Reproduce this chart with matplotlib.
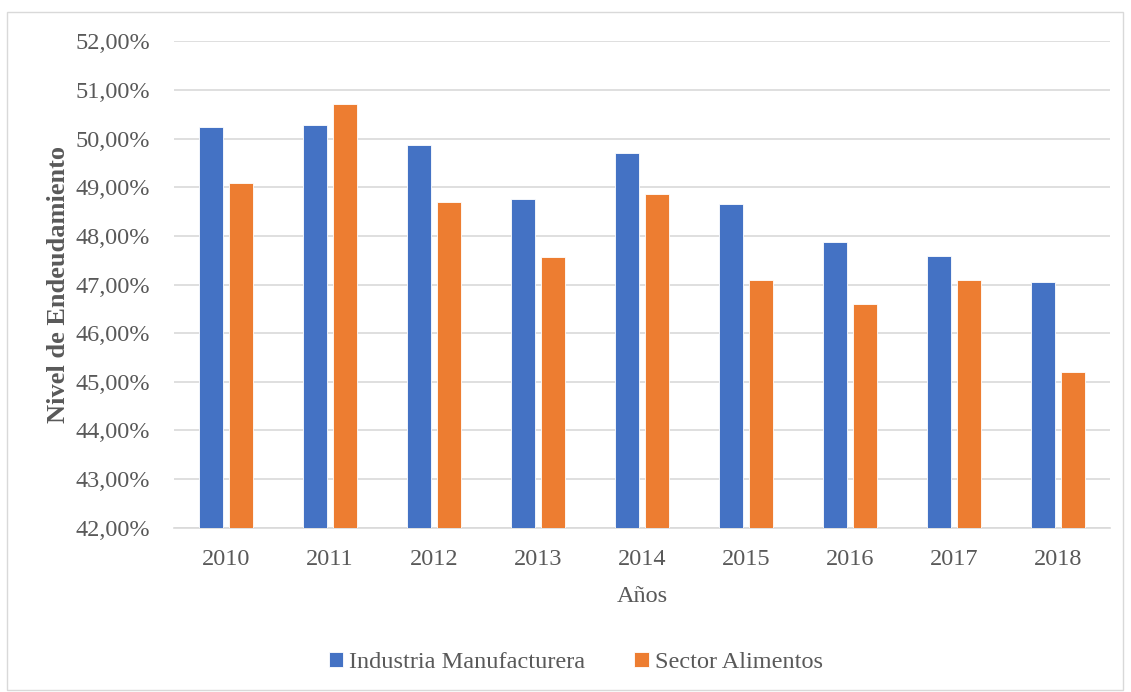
import matplotlib.pyplot as plt
import numpy as np
from matplotlib.patches import Rectangle
from matplotlib.ticker import FuncFormatter

years = ['2010', '2011', '2012', '2013', '2014', '2015', '2016', '2017', '2018']
industria = [50.24, 50.27, 49.87, 48.76, 49.71, 48.66, 47.88, 47.59, 47.05]
alimentos = [49.09, 50.71, 48.70, 47.56, 48.86, 47.10, 46.60, 47.10, 45.20]

blue = '#4472C4'
orange = '#ED7D31'
grey_txt = '#595959'

plt.rcParams['font.family'] = ['Liberation Serif', 'DejaVu Serif']

fig = plt.figure(figsize=(11.31, 6.92), dpi=100)
# thin frame around the whole chart
fig.patches.append(Rectangle((7 / 1131, 2 / 692), 1116 / 1131, 678 / 692,
                             transform=fig.transFigure, fill=False,
                             edgecolor='#d9d9d9', linewidth=1))

ax = fig.add_axes([0.1538, 0.2374, 0.8276, 0.7029])
x = np.arange(len(years))
w = 0.224
off = 0.144
ax.bar(x - off, industria, w, color=blue, edgecolor='white', linewidth=0.6,
       label='Industria Manufacturera', zorder=3)
ax.bar(x + off, alimentos, w, color=orange, edgecolor='white', linewidth=0.6,
       label='Sector Alimentos', zorder=3)

ax.set_ylim(42, 52)
ax.set_xlim(-0.5, len(years) - 0.5)
ax.set_yticks(np.arange(42, 53, 1))
ax.yaxis.set_major_formatter(FuncFormatter(lambda v, p: f'{v:.2f}%'.replace('.', ',')))
ax.set_xticks(x)
ax.set_xticklabels(years)
ax.grid(axis='y', color='#d9d9d9', linewidth=1.2, zorder=0)
for s in ['top', 'right', 'left']:
    ax.spines[s].set_visible(False)
ax.spines['bottom'].set_color('#d9d9d9')
ax.spines['bottom'].set_linewidth(1.2)
ax.tick_params(axis='both', length=0, labelsize=17.5, colors=grey_txt)
ax.tick_params(axis='y', pad=17)
ax.tick_params(axis='x', pad=15)

ax.set_ylabel('Nivel de Endeudamiento', fontsize=19, fontweight='bold',
              color=grey_txt, labelpad=4)
ax.set_xlabel('Años', fontsize=17.5, color=grey_txt, labelpad=12)

fig.legend(loc='center', bbox_to_anchor=(0.509, 0.043), ncol=2, frameon=False,
           fontsize=17.5, labelcolor=grey_txt, handlelength=0.6, handleheight=0.6,
           handletextpad=0.25, columnspacing=2.0)

fig.savefig('out.png', dpi=100)
